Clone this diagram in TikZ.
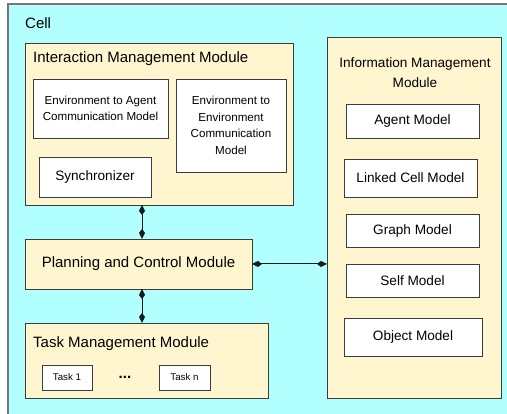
\documentclass[tikz,border=0pt]{standalone}
\usepackage{fontspec}
\setmainfont{Liberation Sans}
\usepackage{tikz}
\usetikzlibrary{arrows.meta}
\definecolor{cellcyan}{RGB}{178,255,255}
\definecolor{modcream}{RGB}{255,246,208}
\definecolor{edgegray}{RGB}{60,60,60}
\tikzset{
  cellbox/.style={ draw=edgegray!70, fill=cellcyan, line width=1.2pt, inner sep=0pt, outer sep=0pt }
}
\tikzset{
  modbox/.style={ draw=edgegray, fill=modcream, line width=0.9pt, inner sep=0pt, outer sep=0pt }
}
\tikzset{
  partbox/.style={ draw=edgegray, fill=white, line width=0.9pt, inner sep=0pt, outer sep=0pt, align=center }
}
\tikzset{
  bigtext/.style={ font=\fontsize{15}{18}\selectfont }
}
\tikzset{
  midtext/.style={ font=\fontsize{13.6}{20}\selectfont }
}
\tikzset{
  smalltext/.style={ font=\fontsize{11.6}{16.5}\selectfont }
}
\tikzset{
  tinytext/.style={ font=\fontsize{9.7}{12}\selectfont }
}
\tikzset{
  link/.style={ {Kite[length=10pt,width=6pt,inset=4pt]}-{Kite[length=10pt,width=6pt,inset=4pt]}, line width=1pt, draw=black!90 }
}

\begin{document}
\begin{tikzpicture}[x=1pt, y=-1pt]
      \useasboundingbox[fill=white] (0,0) rectangle (507,414);
      % the cell
      \node[cellbox, minimum width=504pt, minimum height=416pt] (cell) at (260,212) {};
      \node[bigtext, anchor=base west, inner sep=0pt] (celltitle) at (25,29) {Cell};

      % interaction management
      \node[modbox, minimum width=268pt, minimum height=162pt] (imm) at (159,124) {};
      \node[bigtext, anchor=base west, inner sep=0pt] (immtitle) at (33,63) {Interaction Management Module};
      \node[partbox, smalltext, minimum width=135pt, minimum height=59pt] (envagent) at (100.5,108.5)
        {Environment to Agent\\Communication Model};
      \node[partbox, smalltext, minimum width=110pt, minimum height=93pt] (envenv) at (231,125.5)
        {Environment to\\Environment\\Communication\\Model};
      \node[partbox, midtext, minimum width=112pt, minimum height=40pt] (sync) at (95,177) {Synchronizer};

      % planning and control
      \node[modbox, bigtext, minimum width=227pt, minimum height=50pt] (pcm) at (138.5,264) {Planning and Control Module};

      % task management
      \node[modbox, minimum width=243pt, minimum height=75pt] (tmm) at (146.5,360.5) {};
      \node[bigtext, anchor=base west, inner sep=0pt] (tmmtitle) at (33,348) {Task Management Module};
      \node[partbox, tinytext, minimum width=50pt, minimum height=25pt] (task1) at (67,377.5) {Task 1};
      \node[partbox, tinytext, minimum width=51pt, minimum height=25pt] (taskn) at (184.5,377.5) {Task n};
      \node[bigtext] (dots) at (125,377) {\textbf{...}};

      % information management
      \node[modbox, minimum width=174pt, minimum height=361pt] (infm) at (414,217.5) {};
      \node[midtext, align=center, inner sep=0pt] (infmtitle) at (415,73) {Information Management\\Module};
      \node[partbox, midtext, minimum width=133pt, minimum height=34pt] (agent) at (412.5,121) {Agent Model};
      \node[partbox, midtext, minimum width=133pt, minimum height=38pt] (linked) at (410.5,178) {Linked Cell Model};
      \node[partbox, midtext, minimum width=133pt, minimum height=33pt] (graph) at (412.5,230.5) {Graph Model};
      \node[partbox, midtext, minimum width=133pt, minimum height=33pt] (self) at (412.5,280.5) {Self Model};
      \node[partbox, midtext, minimum width=138pt, minimum height=38pt] (object) at (413,337) {Object Model};

      % connectors
      \coordinate (pcmtop) at ([xshift=3.5pt]pcm.north);
      \coordinate (pcmbot) at ([xshift=3.5pt]pcm.south);
      \draw[link] (imm.south -| pcmtop) -- (pcmtop);
      \draw[link] (pcmbot) -- (pcmbot |- tmm.north);
      \draw[link] (pcm.east) -- (pcm.east -| infm.west);
    \end{tikzpicture}
\end{document}
